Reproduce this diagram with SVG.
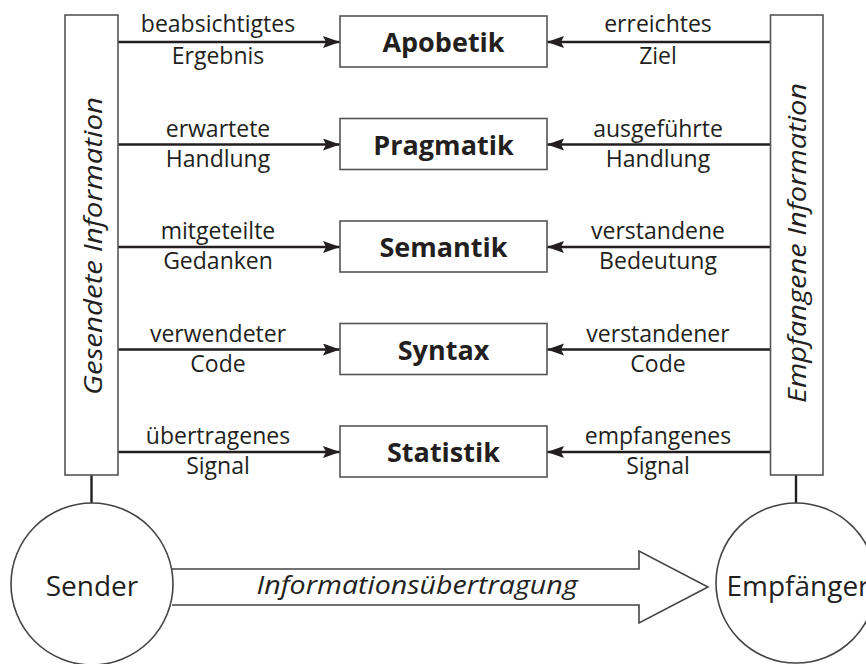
<svg xmlns="http://www.w3.org/2000/svg" width="866" height="664" viewBox="0 0 866 664">
<style>
  .box { fill: #ffffff; stroke: #555555; stroke-width: 1.6; }
  .conn { stroke: #231f20; stroke-width: 2.4; fill: none; }
  .lbl { font-family: "Open Sans", "Liberation Sans", sans-serif; font-size: 23px; fill: #231f20; text-anchor: middle; }
  .title { font-family: "Open Sans", "Liberation Sans", sans-serif; font-size: 27px; font-weight: bold; fill: #231f20; text-anchor: middle; }
  .ital { font-family: "Open Sans", "Liberation Sans", sans-serif; font-size: 26px; font-style: italic; fill: #231f20; text-anchor: middle; }
  .big { font-family: "Open Sans", "Liberation Sans", sans-serif; font-size: 28px; fill: #231f20; text-anchor: middle; }
  .circ { fill: #ffffff; stroke: #444444; stroke-width: 1.6; }
</style>
<defs>
  <marker id="ah" markerUnits="userSpaceOnUse" markerWidth="18" markerHeight="14" refX="17" refY="6" orient="auto">
    <path d="M0,0 L17,6 L0,12 L3,6 Z" fill="#231f20"/>
  </marker>
</defs>
<rect width="866" height="664" fill="#ffffff"/>

<g id="connectors">
  <line class="conn" x1="118" y1="42" x2="340" y2="42" marker-end="url(#ah)"/>
  <line class="conn" x1="118" y1="144.5" x2="340" y2="144.5" marker-end="url(#ah)"/>
  <line class="conn" x1="118" y1="247" x2="340" y2="247" marker-end="url(#ah)"/>
  <line class="conn" x1="118" y1="349.5" x2="340" y2="349.5" marker-end="url(#ah)"/>
  <line class="conn" x1="118" y1="452" x2="340" y2="452" marker-end="url(#ah)"/>
  <line class="conn" x1="771" y1="42" x2="547" y2="42" marker-end="url(#ah)"/>
  <line class="conn" x1="771" y1="144.5" x2="547" y2="144.5" marker-end="url(#ah)"/>
  <line class="conn" x1="771" y1="247" x2="547" y2="247" marker-end="url(#ah)"/>
  <line class="conn" x1="771" y1="349.5" x2="547" y2="349.5" marker-end="url(#ah)"/>
  <line class="conn" x1="771" y1="452" x2="547" y2="452" marker-end="url(#ah)"/>
  <line class="conn" x1="91.5" y1="475" x2="91.5" y2="503"/>
  <line class="conn" x1="796" y1="475" x2="796" y2="503"/>
  <polyline points="172,569 639,569 639,551 708,587 639,623 639,605 172,605" fill="#ffffff" stroke="#444444" stroke-width="1.6"/>
  <text class="ital" x="417" y="594" textLength="321" lengthAdjust="spacingAndGlyphs">Informationsübertragung</text>
  <text class="lbl" x="218" y="32">beabsichtigtes</text>
  <text class="lbl" x="218" y="64">Ergebnis</text>
  <text class="lbl" x="218" y="136.5">erwartete</text>
  <text class="lbl" x="218" y="166.5">Handlung</text>
  <text class="lbl" x="218" y="239">mitgeteilte</text>
  <text class="lbl" x="218" y="269">Gedanken</text>
  <text class="lbl" x="218" y="341.5">verwendeter</text>
  <text class="lbl" x="218" y="371.5">Code</text>
  <text class="lbl" x="218" y="444">übertragenes</text>
  <text class="lbl" x="218" y="474">Signal</text>
  <text class="lbl" x="658" y="32">erreichtes</text>
  <text class="lbl" x="658" y="64">Ziel</text>
  <text class="lbl" x="658" y="136.5">ausgeführte</text>
  <text class="lbl" x="658" y="166.5">Handlung</text>
  <text class="lbl" x="658" y="239">verstandene</text>
  <text class="lbl" x="658" y="269">Bedeutung</text>
  <text class="lbl" x="658" y="341.5">verstandener</text>
  <text class="lbl" x="658" y="371.5">Code</text>
  <text class="lbl" x="658" y="444">empfangenes</text>
  <text class="lbl" x="658" y="474">Signal</text>
</g>

<g id="gesendete">
  <rect class="box" x="65" y="15" width="53" height="460"/>
  <text class="ital" transform="translate(102,246) rotate(-90)" textLength="298" lengthAdjust="spacingAndGlyphs">Gesendete Information</text>
</g>
<g id="empfangene">
  <rect class="box" x="770.5" y="15" width="52.5" height="460"/>
  <text class="ital" transform="translate(806,243) rotate(-90)" textLength="320" lengthAdjust="spacingAndGlyphs">Empfangene Information</text>
</g>

<g id="apobetik"><rect class="box" x="340" y="16" width="207" height="51"/><text class="title" x="443.5" y="52">Apobetik</text></g>
<g id="pragmatik"><rect class="box" x="340" y="118.5" width="207" height="51"/><text class="title" x="443.5" y="154.5">Pragmatik</text></g>
<g id="semantik"><rect class="box" x="340" y="221" width="207" height="51"/><text class="title" x="443.5" y="257">Semantik</text></g>
<g id="syntax"><rect class="box" x="340" y="323.5" width="207" height="51"/><text class="title" x="443.5" y="359.5">Syntax</text></g>
<g id="statistik"><rect class="box" x="340" y="426" width="207" height="51"/><text class="title" x="443.5" y="462">Statistik</text></g>

<g id="sender"><circle class="circ" cx="92" cy="584" r="81"/><text class="big" x="92" y="596">Sender</text></g>
<g id="empfaenger"><circle class="circ" cx="796" cy="583" r="80"/><text class="big" x="798" y="596">Empfänger</text></g>
</svg>
